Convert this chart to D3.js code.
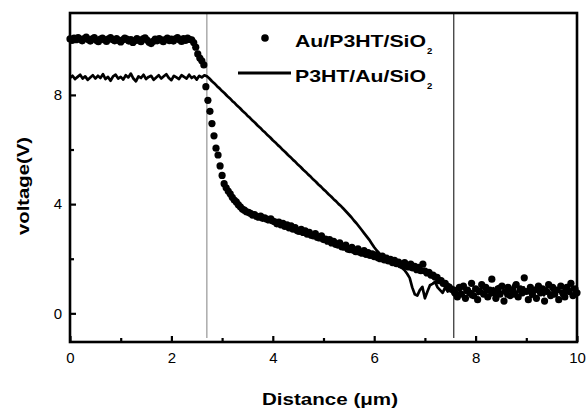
<!DOCTYPE html>
<html>
<head>
<meta charset="utf-8">
<script src="https://cdn.jsdelivr.net/npm/d3@7"></script>
<style>
body { margin: 0; background: #fff; }
svg { display: block; font-family: "Liberation Sans", Arial, sans-serif; }
</style>
</head>
<body>
<svg id="chart" width="588" height="408"></svg>
<script>
// Au/P3HT/SiO2 dots, sampled every 0.04 um starting at 0
var auStep = 0.04;
var auPlateau = [10.05, 10.0, 10.08, 10.02, 10.1, 10.04, 9.98, 10.06, 10.12, 10.03,
	9.97, 10.05, 10.1, 10.0, 9.95, 10.04, 10.08, 10.02, 9.96, 10.05,
	10.1, 10.03, 9.98, 10.06, 10.0, 9.94, 10.02, 10.08, 10.04, 9.97,
	10.03, 9.92, 9.98, 10.06, 10.0, 9.95, 10.05, 10.09, 10.01, 9.93,
	9.88, 9.96, 10.04, 9.98, 10.06, 10.02, 9.95, 10.03, 10.08, 9.99,
	10.04, 9.97, 10.05, 10.1, 10.02, 9.96, 10.06, 10.0, 10.08, 10.03,
	10.02];
var auDrop = [9.92, 9.75, 9.5, 9.35, 9.25, 9.1, 8.3, 7.8, 7.4, 6.95,
	6.5, 6.05, 5.8, 5.4, 5.05, 4.75, 4.6, 4.48, 4.38, 4.25,
	4.15, 4.08, 3.98, 3.9, 3.82, 3.78, 3.72, 3.7, 3.66, 3.6,
	3.62, 3.55, 3.52, 3.56, 3.48, 3.5, 3.45, 3.42, 3.46, 3.38];
var auDecay = [3.35, 3.28, 3.34, 3.24, 3.3, 3.18, 3.24, 3.13, 3.2, 3.08,
	3.14, 3.03, 3.0, 3.08, 2.96, 3.02, 2.9, 2.97, 2.86, 2.84,
	2.92, 2.78, 2.76, 2.84, 2.7, 2.72, 2.64, 2.7, 2.58, 2.64,
	2.53, 2.5, 2.58, 2.44, 2.42, 2.5, 2.36, 2.33, 2.42, 2.3,
	2.26, 2.36, 2.23, 2.2, 2.3, 2.16, 2.22, 2.12, 2.18, 2.08,
	2.14, 2.03, 2.0, 2.1, 1.96, 2.02, 1.92, 1.98, 1.86, 1.94,
	1.82, 1.88, 1.78, 1.76, 1.86, 1.72, 1.7, 1.8, 1.66, 1.72,
	1.6, 1.68, 1.56, 1.8, 1.55, 1.48, 1.5, 1.4, 1.4, 1.33,
	1.32, 1.2, 1.2, 1.1, 1.1, 1.0, 0.96, 0.88, 0.86, 0.74];
var auTail = [0.6, 0.95, 0.7, 1.0, 0.55, 0.85, 0.75, 1.1, 0.65, 0.9,
	0.5, 0.8, 1.05, 0.7, 0.95, 0.6, 0.85, 1.25, 0.75, 0.55,
	0.9, 0.7, 1.0, 0.45, 0.8, 0.95, 0.65, 0.85, 0.7, 1.05,
	0.6, 0.9, 0.75, 1.3, 0.8, 0.5, 0.95, 0.7, 0.85, 0.55,
	1.0, 0.75, 0.9, 0.45, 0.8, 1.05, 0.65, 0.95, 0.7, 0.85,
	0.5, 1.0, 0.75, 0.6, 0.95, 0.8, 1.1, 0.65, 0.9, 0.75];

// P3HT/Au/SiO2 line, sampled every 0.05 um starting at 0
var p3Step = 0.05;
var p3Plateau = [8.62, 8.7, 8.58, 8.66, 8.74, 8.6, 8.68, 8.55, 8.64, 8.72,
	8.6, 8.7, 8.62, 8.76, 8.58, 8.66, 8.52, 8.68, 8.74, 8.6,
	8.66, 8.56, 8.72, 8.64, 8.78, 8.6, 8.5, 8.68, 8.62, 8.74,
	8.58, 8.66, 8.7, 8.55, 8.64, 8.72, 8.6, 8.68, 8.76, 8.62,
	8.54, 8.7, 8.64, 8.58, 8.72, 8.66, 8.6, 8.74, 8.62, 8.68,
	8.56, 8.7, 8.64, 8.72, 8.68];
var p3Slope = [8.6, 8.5, 8.42, 8.32, 8.24, 8.14, 8.06, 7.96, 7.88, 7.78,
	7.7, 7.6, 7.52, 7.42, 7.34, 7.24, 7.16, 7.06, 6.98, 6.88,
	6.8, 6.7, 6.62, 6.52, 6.44, 6.34, 6.26, 6.16, 6.08, 5.98,
	5.9, 5.8, 5.72, 5.62, 5.54, 5.44, 5.36, 5.26, 5.18, 5.08,
	5.0, 4.9, 4.82, 4.72, 4.64, 4.54, 4.46, 4.36, 4.28, 4.18,
	4.1, 4.0, 3.92, 3.82, 3.72, 3.62, 3.52, 3.4, 3.3, 3.18,
	3.06, 2.94, 2.82, 2.7, 2.56, 2.42, 2.3, 2.2, 2.12, 2.06,
	2.0, 1.96, 1.9, 1.84, 1.78, 1.72, 1.66, 1.58, 1.45, 1.3,
	0.95, 0.7, 0.65, 0.85, 0.97, 0.55, 0.8, 1.03, 1.08, 1.15,
	0.95, 0.85];
var p3Tail = [0.75, 0.95, 0.8, 1.0, 0.7, 0.9, 0.65, 0.85, 1.0, 0.75,
	0.9, 0.6, 0.8, 0.95, 0.7, 0.88, 1.02, 0.72, 0.85, 0.65,
	0.92, 0.78, 1.0, 0.7, 0.86, 0.62, 0.9, 0.8, 1.05, 0.72,
	0.85, 0.68, 0.95, 0.78, 0.9, 0.6, 0.82, 1.0, 0.74, 0.88,
	0.66, 0.92, 0.8, 0.7, 0.98, 0.76, 0.86, 0.64, 0.9, 0.8,
	0.72, 0.95, 0.78, 0.85];

var xMajor = [0, 2, 4, 6, 8, 10];
var xMinor = [1, 3, 5, 7, 9];
var yMajor = [0, 4, 8];
var yMinor = [2, 6, 10];
var markerX = [2.7, 7.57];
var markerColor = ["#808080", "#000"];
var legendNames = ["Au/P3HT/SiO", "P3HT/Au/SiO"];

var margin = {left: 70, right: 11, top: 13, bottom: 66};
var W = 588, H = 408;

var svg = d3.select("#chart");

var x = d3.scaleLinear().domain([0, 10]).range([margin.left, W - margin.right]);
var y = d3.scaleLinear().domain([-1.05, 11]).range([H - margin.bottom, margin.top]);

var auValues = auPlateau.concat(auDrop, auDecay, auTail);
var auData = auValues.map(function(v, i){ return {d: i * auStep, v: v}; });
var p3Values = p3Plateau.concat(p3Slope, p3Tail);
var p3Data = p3Values.map(function(v, i){ return {d: i * p3Step, v: v}; });

// thin vertical markers
svg.selectAll(".marker").data(markerX).enter()
	.append("line")
	.attr("x1", function(d){ return x(d); })
	.attr("x2", function(d){ return x(d); })
	.attr("y1", y.range()[1])
	.attr("y2", y.range()[0] - 4)
	.attr("stroke", function(d, i){ return markerColor[i]; })
	.attr("stroke-width", 1);

// P3HT/Au/SiO2 line
var line = d3.line()
	.x(function(d){ return x(d.d); })
	.y(function(d){ return y(d.v); });

svg.append("path")
	.datum(p3Data)
	.attr("d", line)
	.attr("fill", "none")
	.attr("stroke", "#000")
	.attr("stroke-width", 2.7)
	.attr("stroke-linejoin", "round");

// Au/P3HT/SiO2 dots
svg.selectAll(".dot").data(auData).enter()
	.append("circle")
	.attr("cx", function(d){ return x(d.d); })
	.attr("cy", function(d){ return y(d.v); })
	.attr("r", 3.6)
	.attr("fill", "#000");

// axes, ticks point inward
svg.append("g")
	.attr("transform", "translate(0," + y.range()[0] + ")")
	.call(d3.axisBottom(x).tickValues(xMajor).tickSize(-6).tickPadding(10).tickFormat(d3.format("d")));
svg.append("g")
	.attr("transform", "translate(0," + y.range()[0] + ")")
	.call(d3.axisBottom(x).tickValues(xMinor).tickSize(-4).tickFormat(""));
svg.append("g")
	.attr("transform", "translate(" + margin.left + ",0)")
	.call(d3.axisLeft(y).tickValues(yMajor).tickSize(-6).tickPadding(8).tickFormat(d3.format("d")));
svg.append("g")
	.attr("transform", "translate(" + margin.left + ",0)")
	.call(d3.axisLeft(y).tickValues(yMinor).tickSize(-4).tickFormat(""));

svg.selectAll(".domain").remove();
svg.selectAll(".tick line").attr("stroke", "#000").attr("stroke-width", 2.2);
svg.selectAll(".tick text")
	.attr("fill", "#000")
	.style("font-size", "15px")
	.style("font-family", "'Liberation Sans', Arial, sans-serif");

// plot frame
svg.append("rect")
	.attr("x", x.range()[0])
	.attr("y", y.range()[1])
	.attr("width", x.range()[1] - x.range()[0])
	.attr("height", y.range()[0] - y.range()[1])
	.attr("fill", "none")
	.attr("stroke", "#000")
	.attr("stroke-width", 2.6);

// axis titles
svg.append("text")
	.attr("x", 330)
	.attr("y", 405)
	.attr("text-anchor", "middle")
	.attr("textLength", 136)
	.attr("lengthAdjust", "spacingAndGlyphs")
	.style("font-size", "17px")
	.style("font-weight", "bold")
	.text("Distance (\u03bcm)");

svg.append("text")
	.attr("transform", "translate(29,186)rotate(-90)")
	.attr("text-anchor", "middle")
	.attr("textLength", 98)
	.attr("lengthAdjust", "spacingAndGlyphs")
	.style("font-size", "17px")
	.style("font-weight", "bold")
	.text("voltage(V)");

// legend
var legend = svg.append("g");
legend.append("circle").attr("cx", 265).attr("cy", 38).attr("r", 3.8).attr("fill", "#000");
legend.append("line")
	.attr("x1", 238).attr("x2", 291).attr("y1", 73).attr("y2", 73)
	.attr("stroke", "#000").attr("stroke-width", 3.2);

legendNames.forEach(function(name, i){
	var t = legend.append("text")
		.attr("x", 295)
		.attr("y", 46.5 + i * 35)
		.style("font-size", "16.5px")
		.style("font-weight", "bold");
	t.append("tspan").attr("textLength", 131).attr("lengthAdjust", "spacingAndGlyphs").text(name);
	t.append("tspan").attr("dx", 1).attr("dy", 7).style("font-size", "9.5px").text("2");
});
</script>
</body>
</html>
